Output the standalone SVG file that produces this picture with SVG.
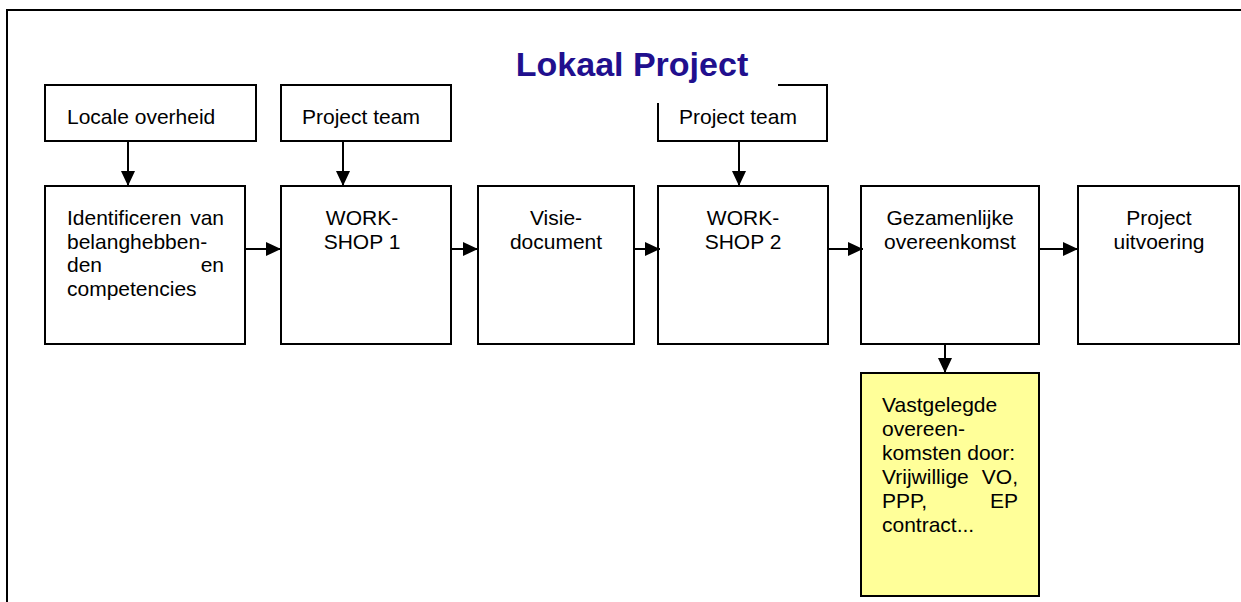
<svg xmlns="http://www.w3.org/2000/svg" width="1241" height="602" viewBox="0 0 1241 602">
<defs>
<style>
.box{fill:#fff;stroke:#000;stroke-width:2}
.note{fill:#ffff99;stroke:#000;stroke-width:2}
.t{font-family:"Liberation Sans",Arial,sans-serif;font-size:21px;fill:#000}
.c{text-anchor:middle}
.title{font-family:"Liberation Sans",Arial,sans-serif;font-size:34px;font-weight:bold;fill:#210f8e;text-anchor:middle}
.conn{stroke:#000;stroke-width:2;fill:none;marker-end:url(#ah)}
</style>
<marker id="ah" markerUnits="userSpaceOnUse" markerWidth="16" markerHeight="14" refX="15" refY="7" orient="auto">
<path d="M0,0 L15,7 L0,14 Z" fill="#000"/>
</marker>
</defs>
<rect width="1241" height="602" fill="#fff"/>
<rect x="7" y="10" width="1260" height="620" fill="none" stroke="#000" stroke-width="2"/>

<g id="locale-overheid"><rect class="box" x="45" y="85" width="211" height="56"/><text class="t" x="67" y="124">Locale overheid</text></g>
<g id="project-team-1"><rect class="box" x="281" y="85" width="170" height="56"/><text class="t" x="302" y="124">Project team</text></g>
<g id="project-team-2"><rect class="box" x="658" y="85" width="169" height="56"/><text class="t" x="679" y="124">Project team</text></g>

<g id="title"><rect x="470" y="36" width="308" height="67" fill="#fff"/><text class="title" x="632" y="76">Lokaal Project</text></g>

<g id="identificeren"><rect class="box" x="45" y="186" width="200" height="158"/>
<text class="t"><tspan x="67" y="225">Identificeren</tspan><tspan x="224" y="225" text-anchor="end">van</tspan><tspan x="67" y="248.5">belanghebben-</tspan><tspan x="67" y="272">den</tspan><tspan x="224" y="272" text-anchor="end">en</tspan><tspan x="67" y="295.5">competencies</tspan></text></g>

<g id="workshop-1"><rect class="box" x="281" y="186" width="170" height="158"/>
<text class="t c"><tspan x="362" y="225">WORK-</tspan><tspan x="362" y="248.5">SHOP 1</tspan></text></g>

<g id="visie-document"><rect class="box" x="478" y="186" width="156" height="158"/>
<text class="t c"><tspan x="556" y="225">Visie-</tspan><tspan x="556" y="248.5">document</tspan></text></g>

<g id="workshop-2"><rect class="box" x="658" y="186" width="170" height="158"/>
<text class="t c"><tspan x="743" y="225">WORK-</tspan><tspan x="743" y="248.5">SHOP 2</tspan></text></g>

<g id="gezamenlijke-overeenkomst"><rect class="box" x="861" y="186" width="178" height="158"/>
<text class="t c"><tspan x="950" y="225">Gezamenlijke</tspan><tspan x="950" y="248.5">overeenkomst</tspan></text></g>

<g id="project-uitvoering"><rect class="box" x="1078" y="186" width="161" height="158"/>
<text class="t c"><tspan x="1159" y="225">Project</tspan><tspan x="1159" y="248.5">uitvoering</tspan></text></g>

<g id="vastgelegde-overeenkomsten"><rect class="note" x="861" y="373" width="178" height="223"/>
<text class="t"><tspan x="882" y="412">Vastgelegde</tspan><tspan x="882" y="436">overeen-</tspan><tspan x="882" y="460">komsten door:</tspan><tspan x="882" y="484">Vrijwillige</tspan><tspan x="1018" y="484" text-anchor="end">VO,</tspan><tspan x="882" y="508">PPP,</tspan><tspan x="1018" y="508" text-anchor="end">EP</tspan><tspan x="882" y="532">contract...</tspan></text></g>

<g id="connectors">
<line class="conn" x1="128" y1="141" x2="128" y2="186"/>
<line class="conn" x1="343" y1="141" x2="343" y2="186"/>
<line class="conn" x1="739" y1="141" x2="739" y2="186"/>
<line class="conn" x1="245" y1="249" x2="281" y2="249"/>
<line class="conn" x1="451" y1="249" x2="478" y2="249"/>
<line class="conn" x1="634" y1="249" x2="660" y2="249"/>
<line class="conn" x1="828" y1="249" x2="863" y2="249"/>
<line class="conn" x1="1039" y1="249" x2="1078" y2="249"/>
<line class="conn" x1="945" y1="344" x2="945" y2="373"/>
</g>
</svg>
